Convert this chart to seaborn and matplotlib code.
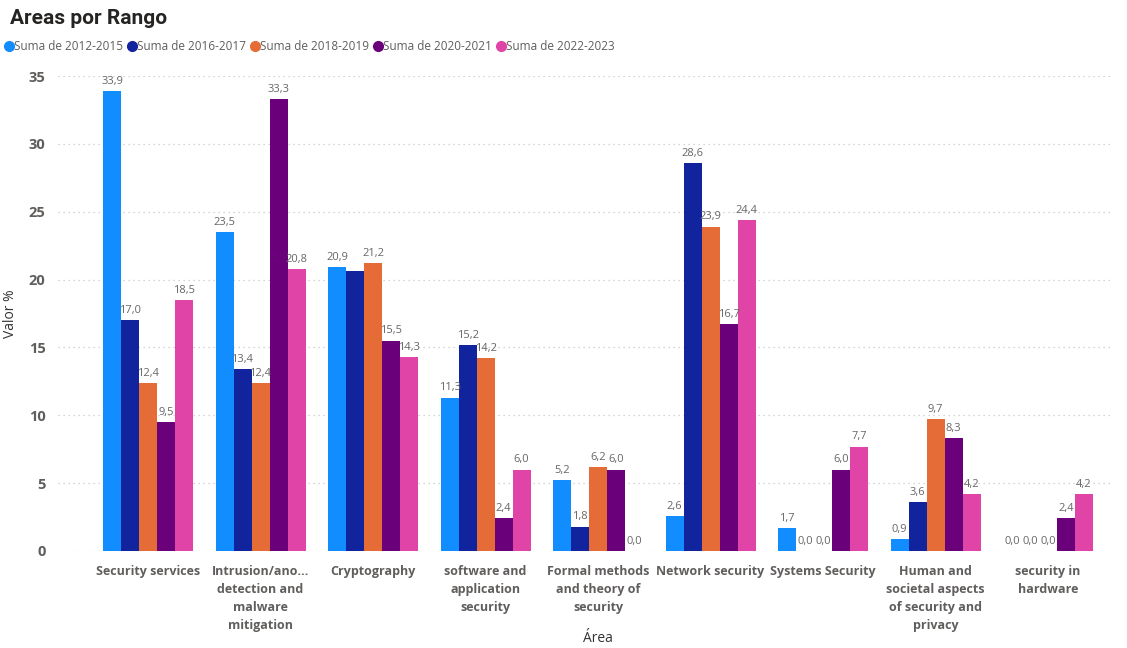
import matplotlib
matplotlib.use("Agg")
import matplotlib.pyplot as plt
from matplotlib.lines import Line2D
import seaborn as sns
import pandas as pd

# Categories (display labels wrapped like the original axis)
areas = [
    "Security services",
    "Intrusion/ano...\ndetection and\nmalware\nmitigation",
    "Cryptography",
    "software and\napplication\nsecurity",
    "Formal methods\nand theory of\nsecurity",
    "Network security",
    "Systems Security",
    "Human and\nsocietal aspects\nof security and\nprivacy",
    "security in\nhardware",
]
series = ["Suma de 2012-2015", "Suma de 2016-2017", "Suma de 2018-2019",
          "Suma de 2020-2021", "Suma de 2022-2023"]

v_2012_2015 = [33.9, 23.5, 20.9, 11.3, 5.2, 2.6, 1.7, 0.9, 0.0]
v_2016_2017 = [17.0, 13.4, 20.6, 15.2, 1.8, 28.6, 0.0, 3.6, 0.0]
v_2018_2019 = [12.4, 12.4, 21.2, 14.2, 6.2, 23.9, 0.0, 9.7, 0.0]
v_2020_2021 = [9.5, 33.3, 15.5, 2.4, 6.0, 16.7, 6.0, 8.3, 2.4]
v_2022_2023 = [18.5, 20.8, 14.3, 6.0, 0.0, 24.4, 7.7, 4.2, 4.2]

colors = ["#118DFF", "#12239E", "#E66C37", "#6B007B", "#E044A7"]

values = [v_2012_2015, v_2016_2017, v_2018_2019, v_2020_2021, v_2022_2023]
rows = []
for s, vals in zip(series, values):
    for a, v in zip(areas, vals):
        rows.append({"Área": a, "Serie": s, "Valor": v})
df = pd.DataFrame(rows)

sns.set_theme(style="white")
plt.rcParams["font.family"] = ["Open Sans", "DejaVu Sans"]

W, H = 1127, 648
fig = plt.figure(figsize=(W / 100, H / 100), dpi=100)
ax = fig.add_axes([58 / W, (H - 551) / H, (1110 - 58) / W, (551 - 76) / H])

sns.barplot(data=df, x="Área", y="Valor", hue="Serie", order=areas,
            hue_order=series, palette=colors, width=0.8, gap=0,
            saturation=1, legend=False, ax=ax, errorbar=None,
            linewidth=0, edgecolor="none")

text_gray = "#605E5C"
label_gray = "#666666"

# Data labels (the overlapped one in Cryptography is hidden)
for si, cont in enumerate(ax.containers):
    labels = []
    for ai, bar in enumerate(cont):
        if si == 1 and ai == 2:
            labels.append("")
        else:
            labels.append(f"{values[si][ai]:.1f}".replace(".", ","))
    ax.bar_label(cont, labels=labels, padding=3, fontsize=8, color=label_gray)

ax.set_ylim(0, 35)
ax.set_xlim(-0.8, 8.55)
ax.set_yticks(range(0, 36, 5))
ax.yaxis.grid(True, linestyle=(0, (1, 3)), color="#C8C8C8", linewidth=0.9)
ax.set_axisbelow(True)
for sp in ax.spines.values():
    sp.set_visible(False)
ax.tick_params(axis="both", length=0)
ax.tick_params(axis="y", pad=9, labelsize=10.5, labelcolor=text_gray)
ax.tick_params(axis="x", pad=10, labelsize=9, labelcolor=text_gray)
for t in ax.get_yticklabels():
    t.set_fontweight("bold")
for t in ax.get_xticklabels():
    t.set_fontweight("bold")
    t.set_linespacing(1.5)

ax.set_ylabel("Valor %", fontsize=10, color="#333333", labelpad=8)
ax.set_xlabel("")
fig.text(598 / W, 1 - 639 / H, "Área", ha="center", va="center",
         fontsize=10, color="#333333")

fig.text(10 / W, 1 - 18 / H, "Areas por Rango", ha="left", va="center",
         fontsize=15, fontweight="bold", color="#252423", family="Roboto")

handles = [Line2D([], [], marker="o", linestyle="", markersize=7,
                  markerfacecolor=c, markeredgecolor=c) for c in colors]
leg = fig.legend(handles, series, loc="center left", ncol=5,
                 bbox_to_anchor=(3 / W, 1 - 47 / H), frameon=False,
                 fontsize=8.5, handletextpad=-0.1, columnspacing=0.3,
                 handlelength=1.0, borderaxespad=0, borderpad=0)
for t in leg.get_texts():
    t.set_color(text_gray)

fig.savefig("out.png", dpi=100)
